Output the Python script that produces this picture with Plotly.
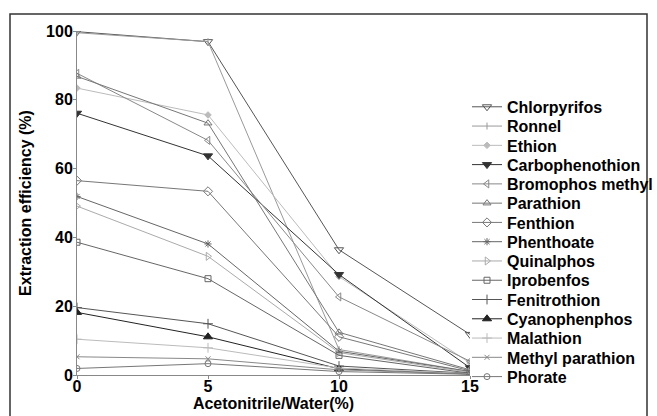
import plotly.graph_objects as go

x_vals = [0, 5, 10, 15]

names = ["Chlorpyrifos", "Ronnel", "Ethion", "Carbophenothion", "Bromophos methyl",
         "Parathion", "Fenthion", "Phenthoate", "Quinalphos", "Iprobenfos",
         "Fenitrothion", "Cyanophenphos", "Malathion", "Methyl parathion", "Phorate"]

chlorpyrifos = [99.8, 96.9, 36.4, 11.8]
ronnel = [99.5, 96.9, 7.4, 1.0]
ethion = [83.4, 75.6, 28.6, 3.5]
carbophenothion = [76.1, 63.7, 29.2, 2.1]
bromophos_methyl = [87.7, 68.2, 22.7, 4.0]
parathion = [86.8, 73.2, 12.4, 1.5]
fenthion = [56.5, 53.4, 11.1, 1.2]
phenthoate = [51.9, 38.1, 6.9, 1.0]
quinalphos = [49.1, 34.5, 6.5, 0.8]
iprobenfos = [38.6, 28.0, 5.7, 0.5]
fenitrothion = [19.6, 14.9, 2.6, 0.5]
cyanophenphos = [18.2, 11.1, 1.8, 0.3]
malathion = [10.4, 7.9, 2.0, 0.4]
methyl_parathion = [5.3, 4.7, 1.5, 0.3]
phorate = [1.9, 3.3, 1.0, 0.2]

series = [chlorpyrifos, ronnel, ethion, carbophenothion, bromophos_methyl,
          parathion, fenthion, phenthoate, quinalphos, iprobenfos,
          fenitrothion, cyanophenphos, malathion, methyl_parathion, phorate]

colors = ["#555555", "#999999", "#bbbbbb", "#333333", "#888888",
          "#777777", "#777777", "#666666", "#aaaaaa", "#666666",
          "#555555", "#222222", "#bbbbbb", "#888888", "#777777"]
symbols = ["triangle-down-open", "line-ns", "diamond", "triangle-down", "triangle-left-open",
           "triangle-up-open", "diamond-open", "asterisk-open", "triangle-right-open", "square-open",
           "cross-thin-open", "triangle-up", "cross-thin-open", "x-thin-open", "circle-open"]
sizes = [8, 5, 5, 8, 7, 7, 7, 6, 7, 6, 7, 8, 7, 5, 6]

FONT = "Arial, Liberation Sans, sans-serif"

# plot area in pixels
L, R, T, B = 77, 470, 31, 375.5
PH = B - T
PW = R - L

fig = go.Figure()
layout_legends = {}
for i, (nm, ys) in enumerate(zip(names, series)):
    key = "legend" if i == 0 else f"legend{i+1}"
    fig.add_trace(go.Scatter(
        x=x_vals, y=ys, name=nm, mode="lines+markers",
        line=dict(color=colors[i], width=1),
        marker=dict(symbol=symbols[i], size=sizes[i], color=colors[i],
                    line=dict(color=colors[i], width=1)),
        legend=key,
    ))
    ypx = 107 + i * 19.3
    layout_legends[key] = dict(
        x=(467 - L) / PW, xanchor="left",
        y=(B - ypx) / PH, yanchor="middle",
        bgcolor="rgba(0,0,0,0)", borderwidth=0,
        font=dict(family=FONT, size=16, color="black", weight="bold"),
    )

fig.update_layout(
    width=657, height=416,
    margin=dict(l=L, r=657 - R, t=T, b=416 - B, autoexpand=False),
    paper_bgcolor="white", plot_bgcolor="white",
    showlegend=True,
    font=dict(family=FONT, size=16, color="black", weight="bold"),
    **layout_legends,
)

fig.update_xaxes(
    range=[0, 15], tickvals=[0, 5, 10, 15], showgrid=False, zeroline=False,
    showline=True, linecolor="#888888", linewidth=1, automargin=False,
    ticks="outside", ticklen=3, tickcolor="#888888", ticklabelstandoff=-6,
    tickfont=dict(family=FONT, size=16, color="black", weight="bold"),
    title=dict(text="Acetonitrile/Water(%)", standoff=2,
               font=dict(family=FONT, size=16, color="black", weight="bold")),
)
fig.update_yaxes(
    range=[0, 100], tickvals=[0, 20, 40, 60, 80, 100], showgrid=False, zeroline=False,
    showline=True, linecolor="#888888", linewidth=1, automargin=False,
    ticks="outside", ticklen=3, tickcolor="#888888", ticklabelstandoff=-3,
    tickfont=dict(family=FONT, size=16, color="black", weight="bold"),
    title=dict(text="Extraction efficiency (%)", standoff=10,
               font=dict(family=FONT, size=16, color="black", weight="bold")),
)

fig.add_shape(type="rect", xref="paper", yref="paper",
              x0=(10 - L) / PW, x1=(647 - L) / PW,
              y0=-0.3, y1=(B - 14) / PH,
              line=dict(color="#333333", width=1.5), fillcolor="rgba(0,0,0,0)",
              layer="below")

fig.write_html("out.html", config={"displayModeBar": False},
               post_script="document.body.style.margin='0';document.body.style.overflow='hidden';")
